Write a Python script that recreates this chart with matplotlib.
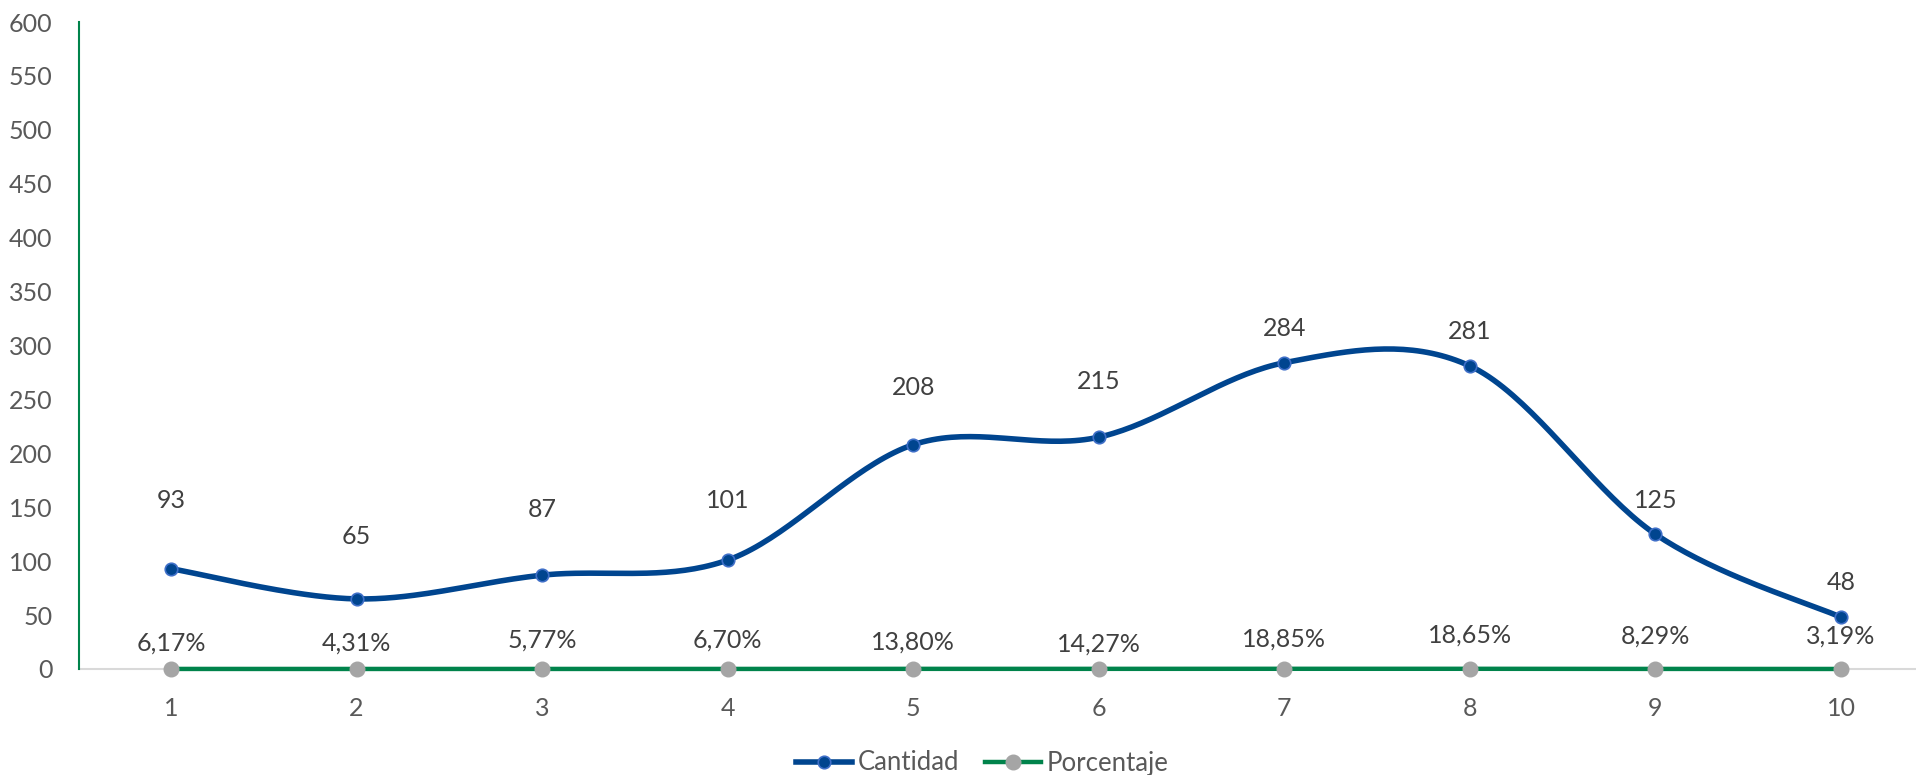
import numpy as np
import matplotlib
matplotlib.use("Agg")
import matplotlib.pyplot as plt
from matplotlib.lines import Line2D

categories = [1, 2, 3, 4, 5, 6, 7, 8, 9, 10]
cantidad = [93, 65, 87, 101, 208, 215, 284, 281, 125, 48]
porcentaje = [6.17, 4.31, 5.77, 6.70, 13.80, 14.27, 18.85, 18.65, 8.29, 3.19]
yticks = [0, 50, 100, 150, 200, 250, 300, 350, 400, 450, 500, 550, 600]

# label offsets (pixels above point) - style only
cant_off = [68, 62, 66, 60, 57, 56, 34, 34, 34, 35]
pct_off = [26, 26, 29, 29, 27, 25, 30, 34, 33, 33]

plt.rcParams['font.family'] = ['Lato', 'DejaVu Sans']

BLUE = '#00458F'
BLUE_EDGE = '#3F6FC8'
GREEN = '#00834B'
GREY = '#A5A5A5'
TXT = '#404040'
TICK = '#595959'
FS = 18

W, H = 1916, 775
fig = plt.figure(figsize=(W / 100, H / 100), dpi=100)
ax = fig.add_axes([79 / W, 1 - 669 / H, 1 - 79 / W, (669 - 22) / H])


def smooth(x, y, n=40):
    x = np.asarray(x, float)
    y = np.asarray(y, float)
    P = np.column_stack([x, y])
    out = []
    for i in range(len(P) - 1):
        p0 = P[i - 1] if i > 0 else P[i]
        p1 = P[i]
        p2 = P[i + 1]
        p3 = P[i + 2] if i + 2 < len(P) else P[i + 1]
        c1 = p1 + (p2 - p0) / 6.0
        c2 = p2 - (p3 - p1) / 6.0
        t = np.linspace(0, 1, n)[:, None]
        seg = ((1 - t) ** 3) * p1 + 3 * ((1 - t) ** 2) * t * c1 + 3 * (1 - t) * t ** 2 * c2 + t ** 3 * p2
        out.append(seg if i == 0 else seg[1:])
    s = np.vstack(out)
    return s[:, 0], s[:, 1]


pct_vals = [p / 100 for p in porcentaje]

sx, sy = smooth(categories, cantidad)
ax.plot(sx, sy, color=BLUE, lw=4.0, solid_capstyle='round', zorder=3)
ax.plot(categories, cantidad, ls='none', marker='o', ms=9, mfc=BLUE, mec=BLUE_EDGE, mew=1.2, zorder=4)

ax.plot(categories, pct_vals, color=GREEN, lw=3.2, zorder=6, clip_on=False)
ax.plot(categories, pct_vals, ls='none', marker='o', ms=10.5, mfc=GREY, mec=GREY, zorder=7, clip_on=False)

for x, v, o in zip(categories, cantidad, cant_off):
    ax.annotate(f"{v}", (x, v), xytext=(0, o * 0.72), textcoords='offset points',
                ha='center', va='center', fontsize=FS, color=TXT)
for x, v, p, o in zip(categories, pct_vals, porcentaje, pct_off):
    ax.annotate(f"{p:.2f}%".replace('.', ','), (x, v), xytext=(0, o * 0.72), textcoords='offset points',
                ha='center', va='center', fontsize=FS, color=TXT)

ax.set_ylim(0, 600)
ax.set_xlim(1 - 92 / 185.6, 10 + 75 / 185.6)
ax.set_yticks(yticks)
ax.set_yticklabels([str(t) for t in yticks])
ax.set_xticks(categories)
ax.set_xticklabels([str(c) for c in categories])
ax.tick_params(axis='y', length=0, pad=19, labelsize=FS, labelcolor=TICK)
ax.tick_params(axis='x', length=0, pad=20, labelsize=FS, labelcolor=TICK)

for s in ['top', 'right']:
    ax.spines[s].set_visible(False)
ax.spines['left'].set_color(GREEN)
ax.spines['left'].set_linewidth(1.5)
ax.spines['bottom'].set_color('#D9D9D9')
ax.spines['bottom'].set_linewidth(1.5)
ax.spines['left'].set_zorder(5)

handles = [
    Line2D([], [], color=BLUE, lw=4.0, marker='o', ms=9, mfc=BLUE, mec=BLUE_EDGE, mew=1.2),
    Line2D([], [], color=GREEN, lw=3.2, marker='o', ms=10.5, mfc=GREY, mec=GREY),
]
fig.legend(handles, ['Cantidad', 'Porcentaje'], loc='center', bbox_to_anchor=(982 / W, 1 - 763 / H),
           ncol=2, frameon=False, fontsize=FS + 0.5, labelcolor=TICK, handlelength=2.2,
           handletextpad=0.2, columnspacing=1.0, borderaxespad=0)

fig.savefig('out.png', dpi=100)
